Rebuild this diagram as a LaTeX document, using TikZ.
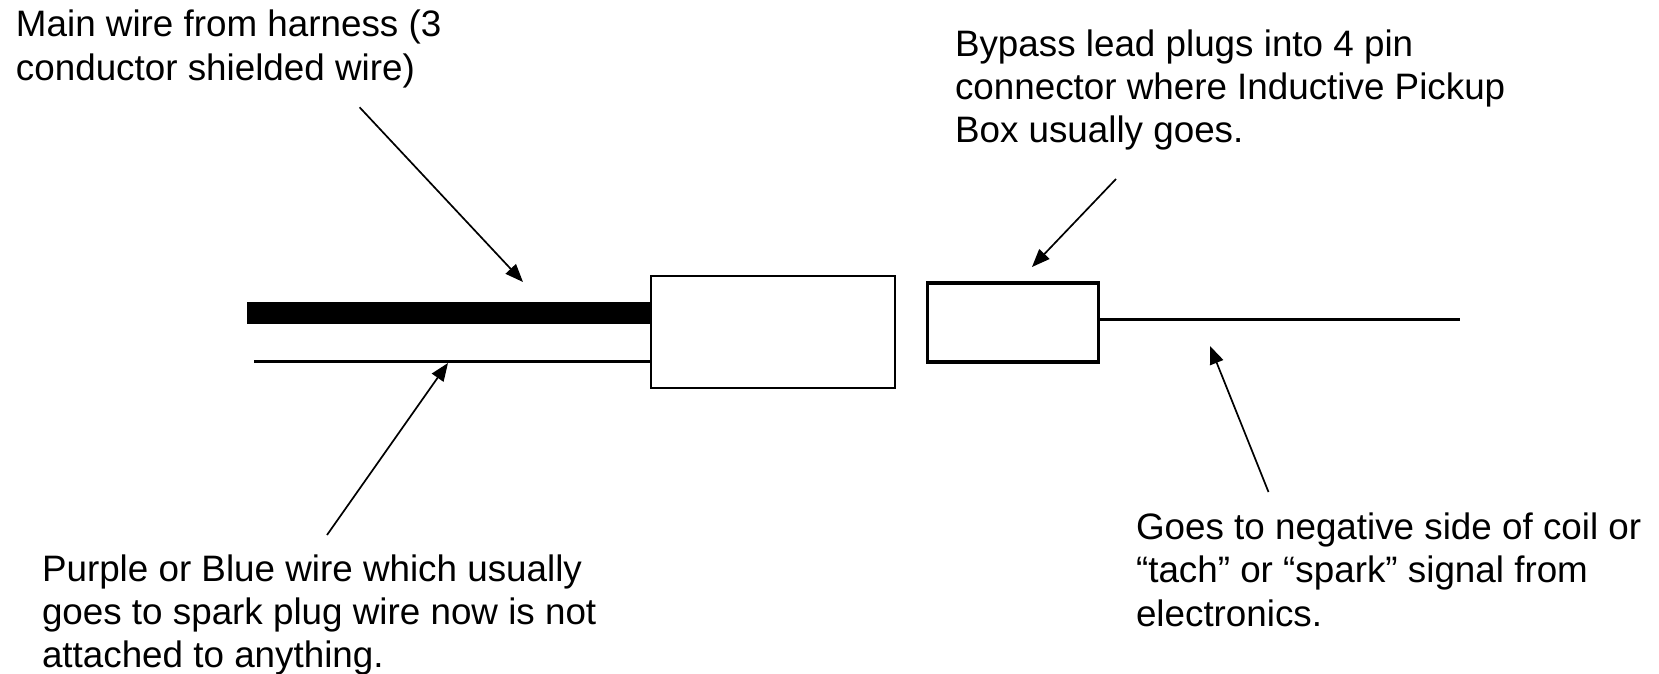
\documentclass[tikz,border=0pt]{standalone}
\usepackage{fontspec}
\setmainfont{Liberation Sans}
\usetikzlibrary{arrows.meta}
\tikzset{
  x=1pt,y=-1pt,
  note/.style={anchor=north west,inner sep=0pt,outer sep=0pt,align=left,font=\fontsize{36.8}{43.3}\selectfont,text=black},
  pointer/.style={draw=black,line width=1.7pt,-{Triangle[length=18pt,width=14pt]}},
  plug/.style={draw=black,fill=white,anchor=north west,inner sep=0pt,outer sep=0pt},
  wire/.style={draw=black,line width=3pt}
}
\begin{document}
\begin{tikzpicture}
\useasboundingbox (0,0) rectangle (1659,674);
\node[note] (t1) at (16,10.3) {Main wire from harness (3\\conductor shielded wire)};
\node[note] (t2) at (955,29.7) {Bypass lead plugs into 4 pin\\connector where Inductive Pickup\\Box usually goes.};
\node[note] (t3) at (42,554.7) {Purple or Blue wire which usually\\goes to spark plug wire now is not\\attached to anything.};
\node[note] (t4) at (1136,513) {Goes to negative side of coil or\\“tach” or “spark” signal from\\electronics.};
\node[plug,line width=2pt,minimum width=244pt,minimum height=112pt] (b1) at (651,276) {};
\node[plug,line width=3.8pt,minimum width=171pt,minimum height=79pt] (b2) at (927.5,283) {};
\coordinate (w1) at (247,313);
\coordinate (w2) at (254,361);
\coordinate (w3) at (1460,319);
\draw[draw=black,line width=22pt] (w1) -- (w1 -| b1.west);
\draw[wire] (w2) -- (w2 -| b1.west);
\draw[wire] (w3 -| b2.east) -- (w3);
\coordinate (a1s) at (359.6,107.3);
\coordinate (a1e) at (523,282);
\coordinate (a2s) at (327,535);
\coordinate (a2e) at (448,363);
\coordinate (a3s) at (1116,179);
\coordinate (a3e) at (1032,267);
\coordinate (a4s) at (1268.5,492);
\coordinate (a4e) at (1210,346);
\draw[pointer] (a1s) -- (a1e);
\draw[pointer] (a2s) -- (a2e);
\draw[pointer] (a3s) -- (a3e);
\draw[pointer] (a4s) -- (a4e);
\end{tikzpicture}
\end{document}
